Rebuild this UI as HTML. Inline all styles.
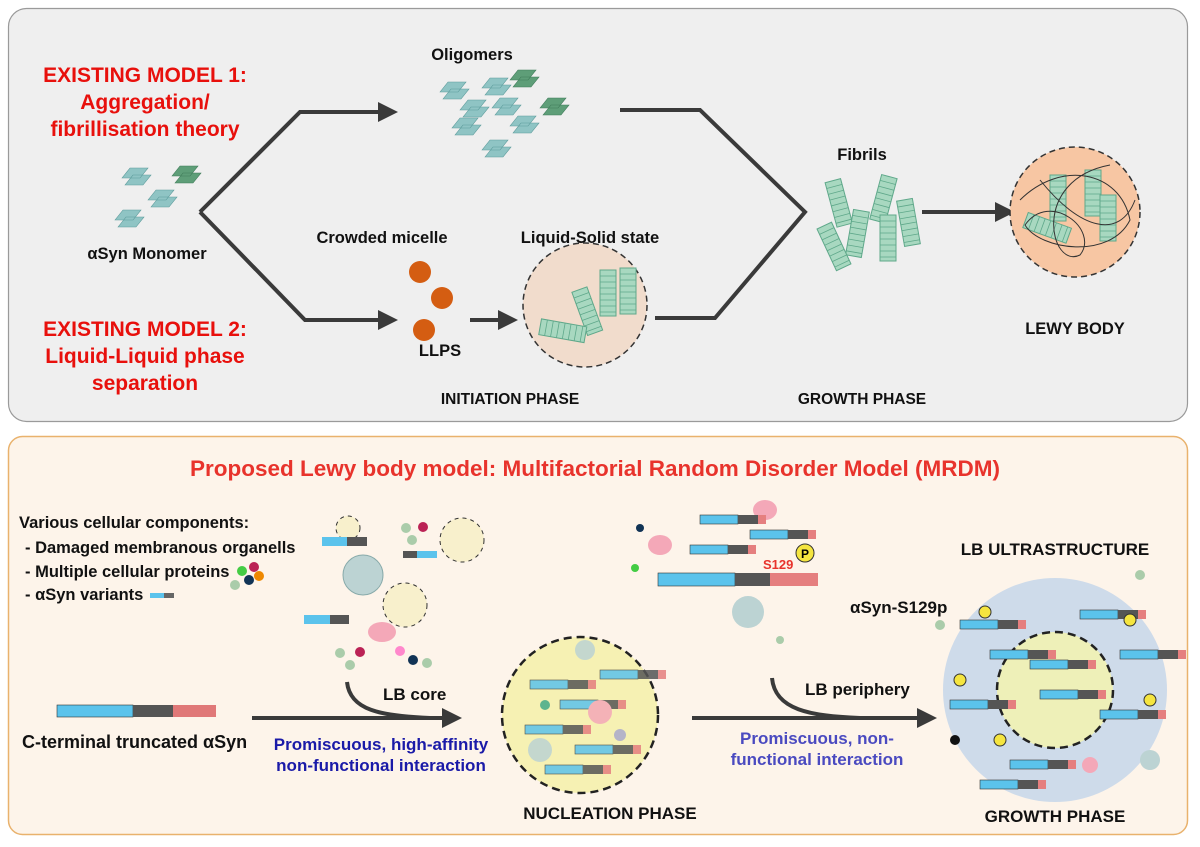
<!DOCTYPE html>
<html><head><meta charset="utf-8"><style>
html,body{margin:0;padding:0;background:#fff;}
svg{display:block;font-family:"Liberation Sans",sans-serif;font-weight:bold;}
</style></head><body>
<svg width="1200" height="847" viewBox="0 0 1200 847" xmlns="http://www.w3.org/2000/svg">
<defs>
<marker id="ah" markerWidth="5" markerHeight="5" refX="2.5" refY="2.5" orient="auto" markerUnits="strokeWidth"><path d="M0,0 L5,2.5 L0,5 z" fill="#3a3a3a"/></marker>
<g id="olig"><path d="M0,10 L8,0 L26,0 L18,10 z M3,17 L11,7 L29,7 L21,17z" fill="#8fc4c4" stroke="#5a9a9a" stroke-width="0.6"/></g>
<g id="olig2"><path d="M0,10 L8,0 L26,0 L18,10 z M3,17 L11,7 L29,7 L21,17z" fill="#5e9e78" stroke="#3e7a58" stroke-width="0.6"/></g>
<g id="fib"><rect x="0" y="0" width="16" height="46" fill="#a8d8c0" stroke="#5fa88a" stroke-width="1"/><path d="M0,6H16M0,12H16M0,18H16M0,24H16M0,30H16M0,36H16M0,42H16" stroke="#5fa88a" stroke-width="0.8"/></g>
<g id="bar"><rect x="0" y="0" width="38" height="9" fill="#5bc3ec" stroke="#333" stroke-width="0.6"/><rect x="38" y="0" width="20" height="9" fill="#555"/><rect x="58" y="0" width="8" height="9" fill="#e57f7f"/></g>
</defs>

<rect x="8.5" y="8.5" width="1179" height="413" rx="18" fill="#efefef" stroke="#9a9a9a" stroke-width="1.2"/>
<g fill="#e8100c" font-size="21" text-anchor="middle">
<text x="145" y="82">EXISTING MODEL 1:</text>
<text x="145" y="109">Aggregation/</text>
<text x="145" y="136">fibrillisation  theory</text>
<text x="145" y="336">EXISTING MODEL 2:</text>
<text x="145" y="363">Liquid-Liquid phase</text>
<text x="145" y="390">separation</text>
</g>
<g font-size="16.5" fill="#111" text-anchor="middle">
<text x="147" y="259">αSyn Monomer</text>
<text x="472" y="60">Oligomers</text>
<text x="382" y="243">Crowded micelle</text>
<text x="590" y="243">Liquid-Solid state</text>
<text x="440" y="356">LLPS</text>
<text x="862" y="160">Fibrils</text>
<text x="1075" y="334">LEWY BODY</text>
<text x="510" y="404" font-size="15.5">INITIATION PHASE</text>
<text x="862" y="404" font-size="15.5">GROWTH  PHASE</text>
</g>
<use href="#olig" x="122" y="168"/><use href="#olig2" x="172" y="166"/><use href="#olig" x="148" y="190"/><use href="#olig" x="115" y="210"/>
<use href="#olig" x="440" y="82"/><use href="#olig" x="482" y="78"/><use href="#olig2" x="510" y="70"/><use href="#olig" x="460" y="100"/><use href="#olig" x="492" y="98"/><use href="#olig2" x="540" y="98"/><use href="#olig" x="510" y="116"/><use href="#olig" x="452" y="118"/><use href="#olig" x="482" y="140"/>
<g fill="none" stroke="#3a3a3a" stroke-width="4">
<polyline points="200,212 300,112 388,112" marker-end="url(#ah)"/>
<polyline points="200,212 305,320 388,320" marker-end="url(#ah)"/>
<line x1="470" y1="320" x2="508" y2="320" marker-end="url(#ah)"/>
<polyline points="620,110 700,110 805,212 715,318 655,318"/>
<line x1="922" y1="212" x2="1005" y2="212" marker-end="url(#ah)"/>
</g>
<circle cx="420" cy="272" r="11" fill="#d45d12"/><circle cx="442" cy="298" r="11" fill="#d45d12"/><circle cx="424" cy="330" r="11" fill="#d45d12"/>
<circle cx="585" cy="305" r="62" fill="#f1dccc" stroke="#333" stroke-width="1.5" stroke-dasharray="6,4"/>
<use href="#fib" x="600" y="270"/><use href="#fib" x="620" y="268"/><use href="#fib" x="575" y="290" transform="rotate(-20 580 300)"/>
<use href="#fib" x="560" y="300" transform="rotate(-80 570 330)"/>
<use href="#fib" x="830" y="180" transform="rotate(-15 838 200)"/><use href="#fib" x="875" y="175" transform="rotate(15 880 200)"/><use href="#fib" x="850" y="210" transform="rotate(10 855 230)"/><use href="#fib" x="880" y="215"/><use href="#fib" x="900" y="200" transform="rotate(-10 905 220)"/><use href="#fib" x="825" y="225" transform="rotate(-25 830 245)"/>
<circle cx="1075" cy="212" r="65" fill="#f7c6a3" stroke="#333" stroke-width="1.5" stroke-dasharray="6,4"/>
<use href="#fib" x="1050" y="175"/><use href="#fib" x="1085" y="170"/><use href="#fib" x="1100" y="195"/><use href="#fib" x="1035" y="205" transform="rotate(-70 1045 225)"/>
<path d="M1020,200 C1060,160 1120,170 1130,220 C1110,260 1040,250 1025,225 C1050,190 1100,230 1080,255 C1050,270 1030,180 1110,165 M1040,180 C1080,230 1120,240 1135,200" fill="none" stroke="#333" stroke-width="1"/>

<rect x="8.5" y="436.5" width="1179" height="398" rx="14" fill="#fdf4ea" stroke="#e9b26d" stroke-width="1.5"/>
<text x="595" y="476" font-size="22.5" fill="#e8332c" text-anchor="middle">Proposed Lewy body model: Multifactorial Random Disorder Model (MRDM)</text>
<g font-size="16.5" fill="#111">
<text x="19" y="528">Various cellular components:</text>
<text x="25" y="553">- Damaged membranous organells</text>
<text x="25" y="577">- Multiple cellular proteins</text>
<text x="25" y="600">- αSyn variants</text>
<text x="22" y="748" font-size="18">C-terminal truncated αSyn</text>
<text x="383" y="700" font-size="17">LB core</text>
<text x="805" y="695" font-size="17">LB periphery</text>
<text x="850" y="613" font-size="17">αSyn-S129p</text>
<text x="1055" y="555" font-size="17" text-anchor="middle">LB  ULTRASTRUCTURE</text>
<text x="610" y="819" font-size="17" text-anchor="middle">NUCLEATION PHASE</text>
<text x="1055" y="822" font-size="17" text-anchor="middle">GROWTH PHASE</text>
</g>
<g font-size="17" fill="#1a1aa8" text-anchor="middle">
<text x="381" y="750">Promiscuous, high-affinity</text>
<text x="381" y="771">non-functional interaction</text>
</g>
<g font-size="17" fill="#4a4ac0" text-anchor="middle">
<text x="817" y="744">Promiscuous, non-</text>
<text x="817" y="765">functional interaction</text>
</g>
<circle cx="242" cy="571" r="5" fill="#4c4"/><circle cx="254" cy="567" r="5" fill="#b25"/><circle cx="259" cy="576" r="5" fill="#e80"/><circle cx="249" cy="580" r="5" fill="#135"/><circle cx="235" cy="585" r="5" fill="#aca"/>
<rect x="150" y="593" width="24" height="5" fill="#5bc3ec"/><rect x="164" y="593" width="10" height="5" fill="#666"/>
<rect x="57" y="705" width="76" height="12" fill="#5bc3ec" stroke="#333" stroke-width="0.6"/><rect x="133" y="705" width="40" height="12" fill="#555"/><rect x="173" y="705" width="43" height="12" fill="#e07878"/>
<g fill="none" stroke="#3a3a3a" stroke-width="4">
<line x1="252" y1="718" x2="452" y2="718" marker-end="url(#ah)"/>
<path d="M347,682 C350,710 380,716 430,718"/>
<line x1="692" y1="718" x2="927" y2="718" marker-end="url(#ah)"/>
<path d="M772,678 C775,710 810,716 860,718"/>
</g>
<circle cx="363" cy="575" r="20" fill="#bcd3d3" stroke="#8aa" />
<circle cx="405" cy="605" r="22" fill="#f8f0cc" stroke="#333" stroke-dasharray="4,4"/>
<circle cx="462" cy="540" r="22" fill="#f8f0cc" stroke="#333" stroke-dasharray="4,4"/>
<circle cx="348" cy="528" r="12" fill="#f8f0cc" stroke="#333" stroke-dasharray="4,4"/>
<rect x="322" y="537" width="45" height="9" fill="#5bc3ec"/><rect x="347" y="537" width="20" height="9" fill="#555"/>
<rect x="304" y="615" width="45" height="9" fill="#5bc3ec"/><rect x="330" y="615" width="19" height="9" fill="#555"/>
<rect x="403" y="551" width="34" height="7" fill="#5bc3ec"/><rect x="403" y="551" width="14" height="7" fill="#555"/>
<ellipse cx="382" cy="632" rx="14" ry="10" fill="#f4a8b8"/>
<circle cx="406" cy="528" r="5" fill="#aca"/><circle cx="423" cy="527" r="5" fill="#b25"/><circle cx="412" cy="540" r="5" fill="#aca"/><circle cx="340" cy="653" r="5" fill="#aca"/><circle cx="360" cy="652" r="5" fill="#b25"/><circle cx="350" cy="665" r="5" fill="#aca"/><circle cx="400" cy="651" r="5" fill="#f8c"/><circle cx="413" cy="660" r="5" fill="#135"/><circle cx="427" cy="663" r="5" fill="#aca"/>
<circle cx="580" cy="715" r="78" fill="#f6f1b3" stroke="#222" stroke-width="2.5" stroke-dasharray="8,5"/>
<g opacity="0.85">
<use href="#bar" x="530" y="680"/><use href="#bar" x="560" y="700"/><use href="#bar" x="525" y="725"/><use href="#bar" x="575" y="745"/><use href="#bar" x="600" y="670"/><use href="#bar" x="545" y="765"/>
<circle cx="600" cy="712" r="12" fill="#f4a8b8"/><circle cx="545" cy="705" r="5" fill="#4a8"/><circle cx="620" cy="735" r="6" fill="#aac"/><circle cx="540" cy="750" r="12" fill="#bcd3d3"/><circle cx="585" cy="650" r="10" fill="#bcd3d3"/>
</g>
<rect x="658" y="573" width="77" height="13" fill="#5bc3ec" stroke="#333" stroke-width="0.6"/><rect x="735" y="573" width="35" height="13" fill="#555"/><rect x="770" y="573" width="48" height="13" fill="#e57f7f"/>
<circle cx="805" cy="553" r="9" fill="#f5e540" stroke="#333"/><text x="805" y="558" font-size="12" text-anchor="middle">P</text>
<text x="763" y="569" font-size="13" fill="#e8332c">S129</text>
<circle cx="748" cy="612" r="16" fill="#bcd3d3"/>
<ellipse cx="660" cy="545" rx="12" ry="10" fill="#f4a8b8"/><ellipse cx="765" cy="510" rx="12" ry="10" fill="#f4a8b8"/>
<use href="#bar" x="690" y="545"/><use href="#bar" x="750" y="530"/><use href="#bar" x="700" y="515"/>
<circle cx="635" cy="568" r="4" fill="#4c4"/><circle cx="640" cy="528" r="4" fill="#135"/><circle cx="780" cy="640" r="4" fill="#aca"/>
<circle cx="1055" cy="690" r="112" fill="#c6d6ea" opacity="0.85"/>
<circle cx="1055" cy="690" r="58" fill="#eef0b8" stroke="#222" stroke-width="2.5" stroke-dasharray="8,5"/>
<g>
<use href="#bar" x="960" y="620"/><use href="#bar" x="1080" y="610"/><use href="#bar" x="950" y="700"/><use href="#bar" x="1100" y="710"/><use href="#bar" x="1010" y="760"/><use href="#bar" x="990" y="650"/><use href="#bar" x="1040" y="690"/><use href="#bar" x="1030" y="660"/><use href="#bar" x="1120" y="650"/><use href="#bar" x="980" y="780"/>
<circle cx="985" cy="612" r="6" fill="#f5e540" stroke="#333"/><circle cx="1130" cy="620" r="6" fill="#f5e540" stroke="#333"/><circle cx="960" cy="680" r="6" fill="#f5e540" stroke="#333"/><circle cx="1150" cy="700" r="6" fill="#f5e540" stroke="#333"/><circle cx="1000" cy="740" r="6" fill="#f5e540" stroke="#333"/>
<circle cx="955" cy="740" r="5" fill="#111"/><circle cx="1140" cy="575" r="5" fill="#aca"/><circle cx="940" cy="625" r="5" fill="#aca"/><circle cx="1150" cy="760" r="10" fill="#bcd3d3"/><circle cx="1090" cy="765" r="8" fill="#f4a8b8"/>
</g>
</svg>
</body></html>
